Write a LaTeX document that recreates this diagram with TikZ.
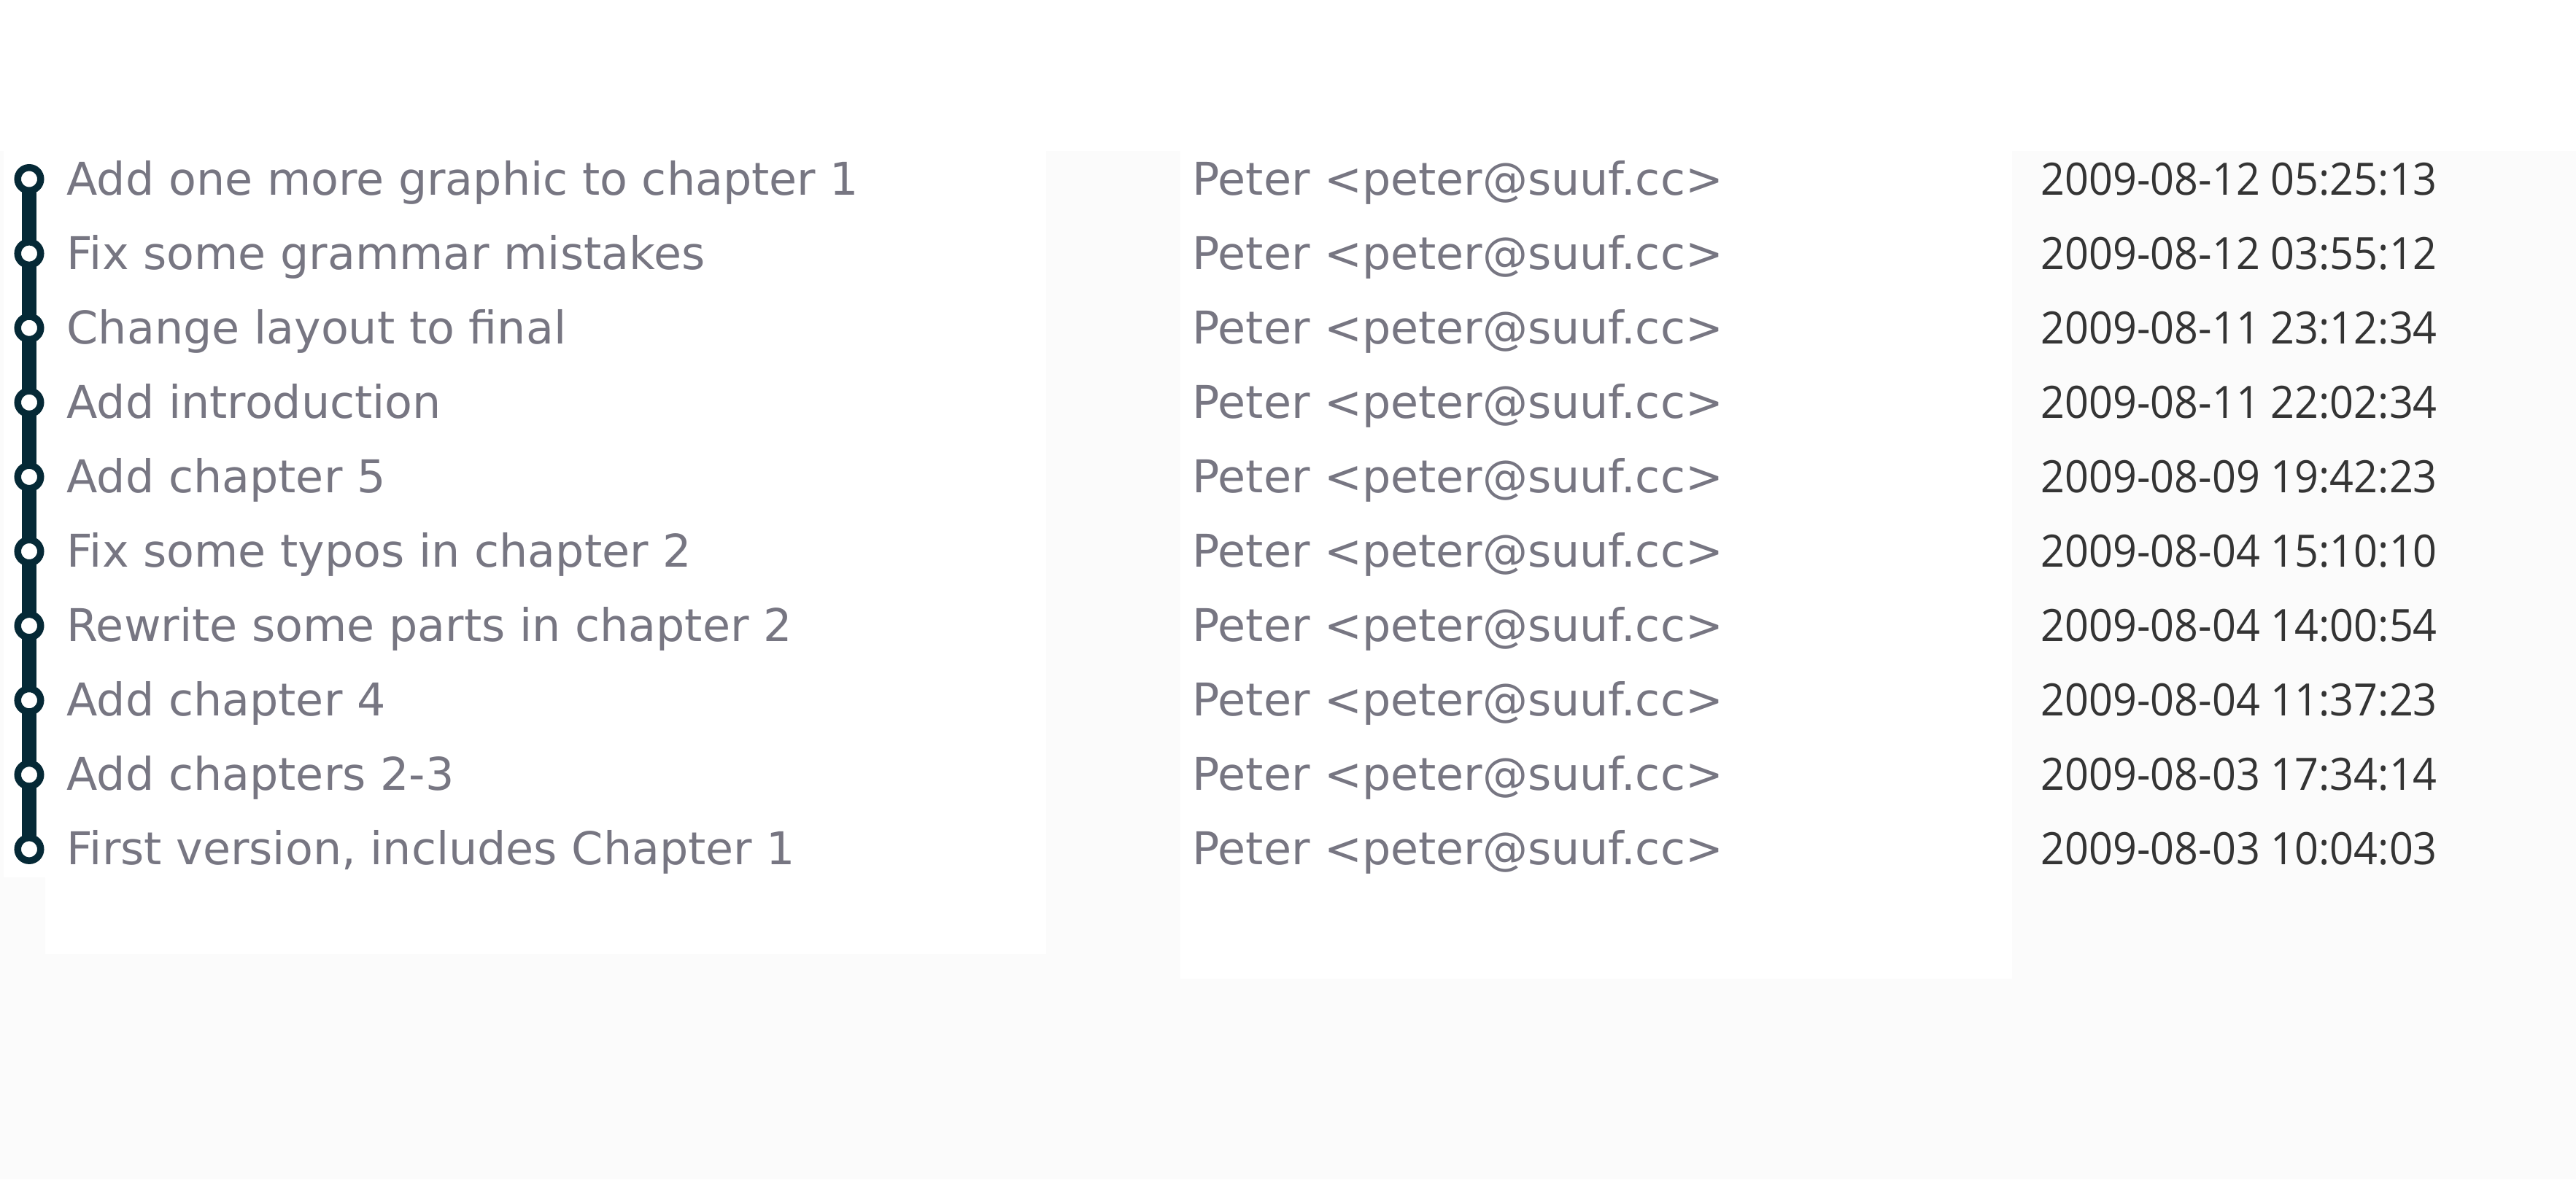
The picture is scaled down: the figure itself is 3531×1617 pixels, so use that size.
\documentclass[tikz,border=0pt]{standalone}
\usepackage{fontspec}
\setmainfont{DejaVu Sans}
\newfontfamily\datefont[FakeStretch=0.94]{Open Sans}
\usetikzlibrary{positioning}

\definecolor{branchcol}{RGB}{5,41,54}
\definecolor{textcol}{RGB}{119,118,130}
\definecolor{datecol}{RGB}{52,52,52}
\definecolor{panelbg}{RGB}{251,251,251}

\tikzset{
  commit/.style={circle, draw=branchcol, fill=white, line width=2.7pt,
    minimum size=0.315cm, inner sep=0pt},
  branch/.style={draw=branchcol, line width=5.7pt,
    shorten <=-1.2pt, shorten >=-1.2pt},
  msgtext/.style={anchor=base west, inner sep=0pt, text=textcol,
    font=\fontsize{17.6}{20}\selectfont},
  datetext/.style={anchor=base west, inner sep=0pt, text=datecol,
    font=\datefont\fontsize{17.4}{20}\selectfont}
}

\begin{document}
\begin{tikzpicture}[x=0.01cm, y=-0.01cm]
\useasboundingbox (0,0) rectangle (3531,1617);

% panels
\fill[panelbg] (0,0) rectangle (3531,1617);
\fill[white] (0,0) rectangle (3531,207);
\fill[white] (5,207) rectangle (62,1203);
\fill[white] (62,207) rectangle (1434,1308);
\fill[white] (1618,207) rectangle (2758,1342);

% commits
\foreach \msg/\when [count=\i] in {
  Add one more graphic to chapter 1/2009-08-12 05:25:13,
  Fix some grammar mistakes/2009-08-12 03:55:12,
  Change layout to final/2009-08-11 23:12:34,
  Add introduction/2009-08-11 22:02:34,
  Add chapter 5/2009-08-09 19:42:23,
  Fix some typos in chapter 2/2009-08-04 15:10:10,
  Rewrite some parts in chapter 2/2009-08-04 14:00:54,
  Add chapter 4/2009-08-04 11:37:23,
  Add chapters 2-3/2009-08-03 17:34:14,
  First version{,} includes Chapter 1/2009-08-03 10:04:03}{
  \pgfmathsetmacro\yb{267+(\i-1)*102.1}
  \node[commit] (c\i) at (40,\yb-21.5) {};
  \node[msgtext] (msg\i) at (91,\yb) {\msg};
  \node[msgtext] (author\i) at (1634,\yb) {Peter <peter@suuf.cc>};
  \node[datetext] (date\i) at (2797,\yb) {\when};
}

% branch
\foreach \i [evaluate=\i as \j using int(\i+1)] in {1,...,9}
  \draw[branch] (c\i) -- (c\j);

\end{tikzpicture}
\end{document}
